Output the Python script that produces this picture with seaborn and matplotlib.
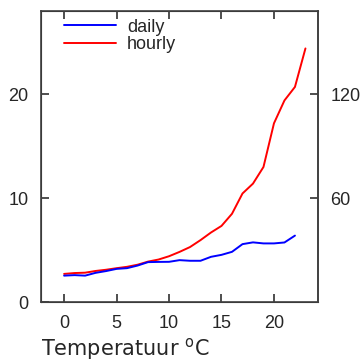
import matplotlib
matplotlib.use("Agg")
import matplotlib.pyplot as plt
import pandas as pd
import seaborn as sns

# temperature (degrees C)
temp_daily = list(range(0, 23))
temp_hourly = list(range(0, 24))

# daily series, left axis
daily = [2.55, 2.6, 2.55, 2.82, 2.99, 3.2, 3.27, 3.52, 3.85, 3.87, 3.88, 4.04,
         3.98, 3.98, 4.36, 4.55, 4.84, 5.58, 5.75, 5.65, 5.65, 5.74, 6.4]

# hourly series, right axis
hourly = [16.3, 16.8, 17.0, 18.0, 18.7, 19.6, 20.4, 21.6, 23.4, 24.6, 26.5, 29.0,
          31.8, 35.8, 40.2, 44.0, 51.0, 62.7, 68.4, 78.0, 103.2, 116.4, 124.2, 146.4]

left_ticks = [0, 10, 20]
right_ticks = [60, 120]
x_ticks = [0, 5, 10, 15, 20]

sns.set_style("ticks")
plt.rcParams["font.family"] = ["Liberation Sans", "DejaVu Sans"]
plt.rcParams["axes.axisbelow"] = False

df_daily = pd.DataFrame({"T": temp_daily, "v": daily})
df_hourly = pd.DataFrame({"T": temp_hourly, "v": hourly})

fig = plt.figure(figsize=(3.61, 3.61), dpi=100)
ax = fig.add_axes([0.1136, 0.163, 0.7674, 0.8065])
ax2 = ax.twinx()

sns.lineplot(data=df_hourly, x="T", y="v", ax=ax2, color="#ff0000", lw=1.4, label="hourly")
sns.lineplot(data=df_daily, x="T", y="v", ax=ax, color="#0000ff", lw=1.4, label="daily")

# left axes drawn on top of the twin, both see-through
ax.set_zorder(2)
ax.patch.set_visible(False)

ax.set_xlim(-2.2, 24.2)
ax.set_ylim(0, 28)
ax2.set_ylim(0, 168)
ax.set_xticks(x_ticks)
ax.set_yticks(left_ticks)
ax2.set_yticks(right_ticks)

ax.set_xlabel(r"Temperatuur $^{\mathrm{o}}$C", fontsize=15, family="DejaVu Sans",
              loc="left", labelpad=3)
ax.set_ylabel("")
ax2.set_ylabel("")

edge = "#404040"
for s in ax.spines.values():
    s.set_visible(True)
    s.set_color(edge)
    s.set_linewidth(1.2)
ax2.spines["right"].set_color(edge)
ax2.spines["right"].set_linewidth(1.2)

# merge legends
h1, l1 = ax.get_legend_handles_labels()
h2, l2 = ax2.get_legend_handles_labels()
ax2.get_legend().remove()
ax.get_legend().remove()
ax.legend(h1 + h2, l1 + l2, loc="upper left", frameon=False, fontsize=13,
          handlelength=2.9, handletextpad=0.6, labelspacing=0.05,
          borderaxespad=0.1, bbox_to_anchor=(0.05, 1.005))

# ticks inward on every side
ax.tick_params(axis="x", which="major", direction="in", top=True, bottom=True,
               length=6, width=1.3, color=edge, labelsize=13, pad=9)
ax.tick_params(axis="y", which="major", direction="in", left=True, right=False,
               length=6, width=1.3, color=edge, labelsize=13, pad=9)
ax2.tick_params(axis="y", which="major", direction="in", right=True, left=False,
                length=6, width=1.3, color=edge, labelsize=13, pad=9)
for t in ax.xaxis.get_major_ticks() + ax.yaxis.get_major_ticks() + ax2.yaxis.get_major_ticks():
    t.tick1line.set_zorder(5)
    t.tick2line.set_zorder(5)

fig.savefig("out.png", dpi=100)
